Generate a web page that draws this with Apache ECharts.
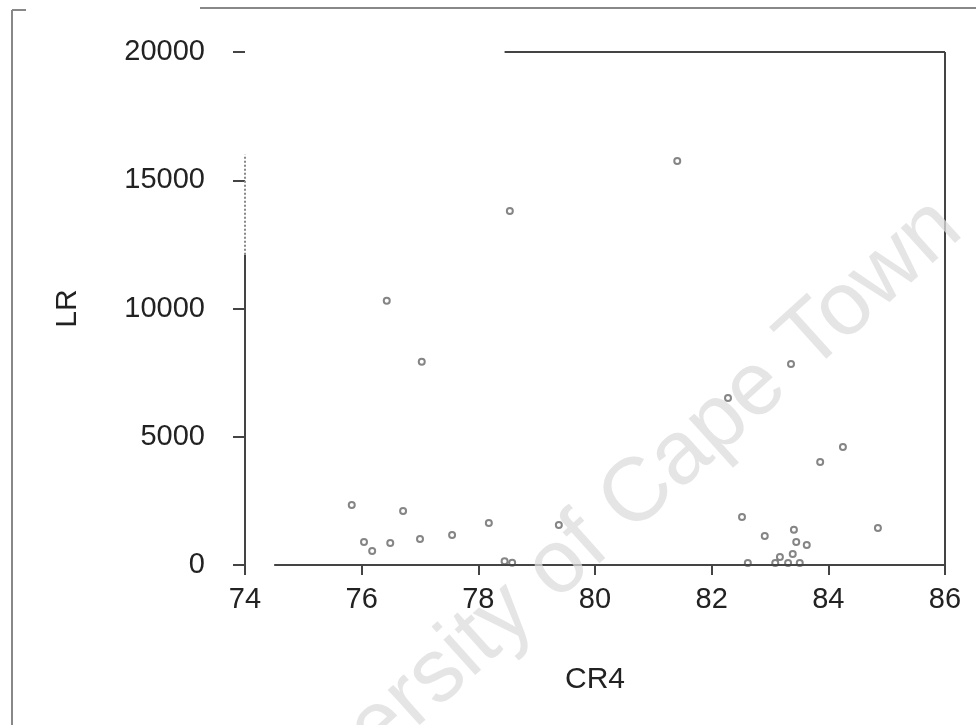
<!DOCTYPE html>
<html>
<head>
<meta charset="utf-8">
<script src="https://cdn.jsdelivr.net/npm/echarts@6/dist/echarts.min.js"></script>
<style>
html,body{margin:0;padding:0;background:#fff;}
#chart{width:976px;height:725px;}
</style>
</head>
<body>
<div id="chart"></div>
<script>
// CR4 (x) and LR (y) values
const cr4 = [75.83, 76.04, 76.18, 76.49, 76.71, 77.00, 77.55, 78.18, 78.45, 78.58,
             79.38, 76.43, 77.03, 78.54, 81.41, 82.28, 83.36, 84.25, 83.86, 82.52,
             82.91, 83.41, 83.45, 83.63, 83.39, 83.17, 82.62, 83.09, 83.31, 83.51, 84.85];
const lr  = [2340, 900, 550, 860, 2110, 1010, 1170, 1640, 150, 90,
             1560, 10300, 7920, 13800, 15750, 6510, 7840, 4600, 4020, 1870,
             1130, 1370, 900, 780, 430, 310, 80, 80, 80, 80, 1440];
const xTicks = [74, 76, 78, 80, 82, 84, 86];
const yTicks = [0, 5000, 10000, 15000, 20000];
const xName = 'CR4';
const yName = 'LR';
const watermark = 'University of Cape Town';

const points = cr4.map((v, i) => [v, lr[i]]);
const xMin = xTicks[0], xMax = xTicks[xTicks.length - 1];
const yMin = yTicks[0], yMax = yTicks[yTicks.length - 1];

const font = 'Liberation Sans';
const chart = echarts.init(document.getElementById('chart'));
const lineStyleAxis = {color: '#444', width: 2, type: 'solid'};

chart.setOption({
  backgroundColor: '#fff',
  animation: false,
  grid: {left: 245, right: 31, top: 52, bottom: 160, containLabel: false},
  xAxis: {
    type: 'value', min: xMin, max: xMax, interval: 2,
    name: xName, nameLocation: 'middle', nameGap: 100,
    nameTextStyle: {fontFamily: font, fontSize: 30, color: '#222'},
    axisLine: {show: false},
    axisTick: {show: true, inside: false, length: 10, lineStyle: {color: '#444', width: 2}},
    axisLabel: {fontFamily: font, fontSize: 29, color: '#222', margin: 20, formatter: v => String(v)},
    splitLine: {show: false}
  },
  yAxis: {
    type: 'value', min: yMin, max: yMax, interval: 5000,
    name: yName, nameLocation: 'middle', nameGap: 162, nameRotate: 90,
    nameTextStyle: {fontFamily: font, fontSize: 30, color: '#222'},
    axisLine: {show: false},
    axisTick: {show: true, inside: false, length: 12, lineStyle: {color: '#444', width: 2}},
    axisLabel: {fontFamily: font, fontSize: 29, color: '#222', margin: 40, formatter: v => String(v)},
    splitLine: {show: false}
  },
  series: [{
    type: 'scatter',
    data: points,
    symbol: 'emptyCircle',
    symbolSize: 6,
    itemStyle: {color: '#666', borderColor: '#666', borderWidth: 1},
    markLine: {
      silent: true, symbol: 'none', label: {show: false},
      lineStyle: lineStyleAxis,
      data: [
        [{coord: [74.5, yMin]}, {coord: [xMax, yMin]}],
        [{coord: [xMin, yMin]}, {coord: [xMin, 12100]}],
        [{coord: [xMin, 12100], lineStyle: {color: '#888', width: 2, type: 'dotted'}}, {coord: [xMin, 16000]}],
        [{coord: [78.45, yMax]}, {coord: [xMax, yMax]}],
        [{coord: [xMax, yMin]}, {coord: [xMax, yMax]}]
      ]
    }
  }],
  graphic: [
    {type: 'line', shape: {x1: 12, y1: 10, x2: 12, y2: 725}, style: {stroke: '#888', lineWidth: 2}, z: 1},
    {type: 'line', shape: {x1: 12, y1: 10, x2: 26, y2: 10}, style: {stroke: '#888', lineWidth: 2}, z: 1},
    {type: 'line', shape: {x1: 200, y1: 8, x2: 976, y2: 8}, style: {stroke: '#888', lineWidth: 2}, z: 1},
    {
      type: 'text', x: 588, y: 540, rotation: 42 * Math.PI / 180, z: 100,
      style: {text: watermark, font: '90px "Liberation Sans"', fill: 'rgba(220,220,220,0.75)',
              textAlign: 'center', textVerticalAlign: 'middle'}
    }
  ]
});
</script>
</body>
</html>
